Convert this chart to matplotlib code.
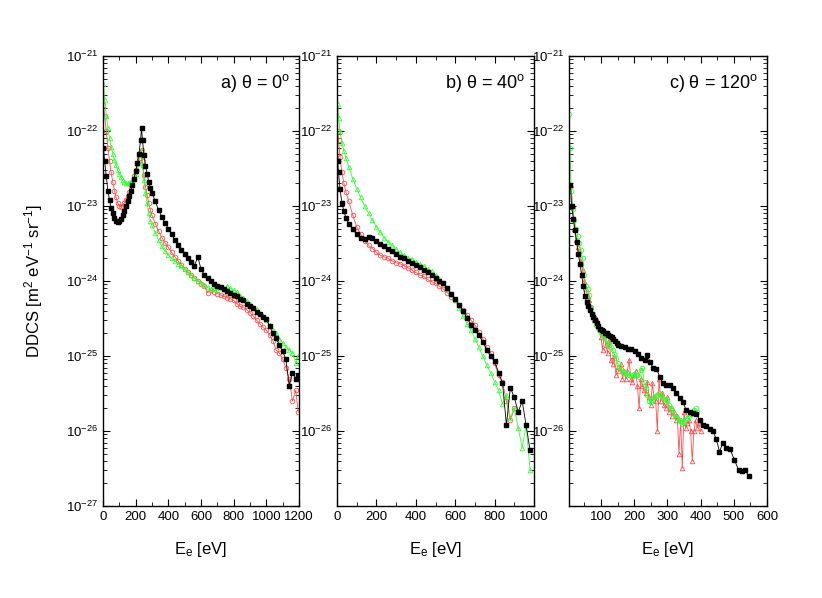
import matplotlib
matplotlib.use("Agg")
import matplotlib.pyplot as plt
from matplotlib.ticker import MultipleLocator, LogLocator, NullFormatter

plt.rcParams['font.family'] = ['Liberation Sans', 'DejaVu Sans']
plt.rcParams['mathtext.fontset'] = 'custom'
plt.rcParams['mathtext.rm'] = 'Liberation Sans'
plt.rcParams['mathtext.it'] = 'Liberation Sans:italic'
plt.rcParams['mathtext.default'] = 'regular'

# ---- panel a) theta = 0 deg
E_a = [3, 10, 20, 30, 40, 50, 60, 70, 80, 90, 100, 110, 120, 130, 140, 150, 160, 170,
       180, 190, 200, 210, 220, 230, 236, 242, 250, 260, 270, 280, 290, 300, 320, 340,
       360, 380, 400, 420, 440, 460, 480, 500, 520, 540, 560, 580, 600, 620, 640, 660,
       680, 700, 720, 740, 760, 780, 800, 820, 840, 860, 880, 900, 920, 940, 960, 980,
       1000, 1020, 1040, 1060, 1080, 1100, 1120, 1140, 1160, 1180, 1195]
black_a = [6.0e-23, 4.0e-23, 2.5e-23, 1.6e-23, 1.2e-23, 9.5e-24, 8.0e-24, 7.0e-24, 6.4e-24,
           6.1e-24, 6.3e-24, 6.8e-24, 7.5e-24, 8.5e-24, 1.0e-23, 1.15e-23, 1.35e-23, 1.6e-23,
           1.9e-23, 2.3e-23, 2.9e-23, 3.7e-23, 5.0e-23, 7.5e-23, 1.1e-22, 7.5e-23, 4.8e-23,
           3.4e-23, 2.7e-23, 2.1e-23, 1.75e-23, 1.5e-23, 1.15e-23, 8.9e-24, 7.2e-24, 5.9e-24,
           5.0e-24, 4.2e-24, 3.5e-24, 3.0e-24, 2.6e-24, 2.3e-24, 2.0e-24, 1.8e-24, 1.6e-24,
           2.1e-24, 1.45e-24, 1.2e-24, 1.08e-24, 1.0e-24, 9.2e-25, 8.5e-25, 8.2e-25, 7.8e-25,
           7.4e-25, 7.0e-25, 6.6e-25, 6.3e-25, 5.8e-25, 5.5e-25, 5.0e-25, 4.7e-25, 4.3e-25,
           3.9e-25, 3.6e-25, 3.3e-25, 3.1e-25, 2.5e-25, 2.0e-25, 1.75e-25, 1.4e-25, 1.15e-25,
           9.0e-26, 4.0e-26, 6.0e-26, 5.0e-26, 5.5e-26]
red_a = [2.2e-22, 1.6e-22, 1.0e-22, 6.0e-23, 4.0e-23, 2.8e-23, 2.1e-23, 1.6e-23, 1.3e-23,
         1.1e-23, 1.0e-23, 9.8e-24, 1.0e-23, 1.1e-23, 1.2e-23, 1.35e-23, 1.55e-23, 1.8e-23,
         2.1e-23, 2.5e-23, 3.0e-23, 3.6e-23, 4.3e-23, 5.2e-23, 5.6e-23, 4.0e-23, 2.6e-23,
         1.8e-23, 1.4e-23, 1.1e-23, 8.8e-24, 7.5e-24, 5.8e-24, 4.6e-24, 3.8e-24, 3.2e-24,
         2.8e-24, 2.4e-24, 2.1e-24, 1.85e-24, 1.65e-24, 1.45e-24, 1.3e-24, 1.2e-24, 1.1e-24,
         1.0e-24, 9.2e-25, 8.5e-25, 7.0e-25, 7.5e-25, 7.2e-25, 6.8e-25, 6.5e-25, 6.3e-25,
         6.0e-25, 5.8e-25, 5.5e-25, 5.0e-25, 4.6e-25, 4.5e-25, 4.1e-25, 3.8e-25, 3.4e-25,
         3.0e-25, 2.7e-25, 2.4e-25, 2.2e-25, 1.9e-25, 1.6e-25, 1.2e-25, 1.1e-25, 9.0e-26,
         7.0e-26, 5.0e-26, 2.5e-26, 3.5e-26, 1.8e-26]
green_a = [4.2e-22, 2.6e-22, 1.6e-22, 1.1e-22, 8.0e-23, 6.2e-23, 5.0e-23, 4.1e-23, 3.5e-23,
           3.0e-23, 2.7e-23, 2.4e-23, 2.2e-23, 2.1e-23, 2.0e-23, 2.0e-23, 2.0e-23, 2.1e-23,
           2.2e-23, 2.4e-23, 2.7e-23, 3.1e-23, 3.8e-23, 4.8e-23, 5.5e-23, 3.5e-23, 2.2e-23,
           1.5e-23, 1.1e-23, 8.0e-24, 6.4e-24, 5.5e-24, 4.4e-24, 3.5e-24, 2.9e-24, 2.5e-24,
           2.2e-24, 2.0e-24, 1.85e-24, 1.7e-24, 1.6e-24, 1.45e-24, 1.3e-24, 1.2e-24, 1.1e-24,
           1.0e-24, 9.4e-25, 8.8e-25, 8.2e-25, 7.8e-25, 8.0e-25, 7.6e-25, 8.3e-25, 7.9e-25,
           8.5e-25, 8.0e-25, 7.6e-25, 7.2e-25, 6.4e-25, 6.0e-25, 5.4e-25, 5.0e-25, 4.5e-25,
           4.2e-25, 3.6e-25, 3.4e-25, 3.0e-25, 2.6e-25, 2.2e-25, 2.0e-25, 1.7e-25, 1.5e-25,
           1.3e-25, 1.2e-25, 1.1e-25, 8.0e-26, 1.0e-25]

# ---- panel b) theta = 40 deg
E_b = [3, 8, 15, 25, 35, 45, 60, 80, 100, 120, 140, 160, 180, 200, 220, 240, 260, 280,
       300, 320, 340, 360, 380, 400, 420, 440, 460, 480, 500, 520, 540, 560, 580, 600,
       620, 640, 660, 680, 700, 720, 740, 760, 780, 800, 820, 840, 860, 880, 900, 920,
       940, 960, 980]
E_b_red = [3, 8, 15, 25, 35, 45, 60, 80, 100, 120, 140, 160, 180, 200, 220, 240, 260, 280,
           300, 320, 340, 360, 380, 400, 420, 440, 460, 480, 500, 520, 540, 560, 580, 600,
           620, 640, 660, 680, 700, 720, 740, 760, 780, 800, 820, 840, 860, 880, 900]
black_b = [4.0e-23, 2.8e-23, 1.7e-23, 1.1e-23, 8.5e-24, 7.0e-24, 5.8e-24, 4.9e-24, 4.2e-24,
           3.7e-24, 3.6e-24, 3.9e-24, 3.7e-24, 3.4e-24, 3.1e-24, 2.9e-24, 2.7e-24, 2.5e-24,
           2.3e-24, 2.1e-24, 2.0e-24, 1.85e-24, 1.75e-24, 1.65e-24, 1.55e-24, 1.4e-24,
           1.3e-24, 1.2e-24, 1.1e-24, 1.0e-24, 9.5e-25, 8.0e-25, 6.8e-25, 5.8e-25, 4.8e-25,
           4.0e-25, 3.2e-25, 2.6e-25, 2.2e-25, 1.9e-25, 1.55e-25, 1.2e-25, 1.0e-25, 8.5e-26,
           6.0e-26, 4.4e-26, 1.2e-26, 3.8e-26, 2.8e-26, 1.8e-26, 2.5e-26, 1.2e-26, 5.5e-27]
red_b = [1.0e-22, 7.5e-23, 4.5e-23, 2.8e-23, 2.0e-23, 1.55e-23, 1.15e-23, 7.5e-24, 5.3e-24,
         4.2e-24, 3.4e-24, 3.0e-24, 2.7e-24, 2.4e-24, 2.2e-24, 2.1e-24, 2.0e-24, 1.85e-24,
         1.75e-24, 1.7e-24, 1.6e-24, 1.5e-24, 1.4e-24, 1.3e-24, 1.2e-24, 1.15e-24, 1.05e-24,
         9.8e-25, 9.3e-25, 8.5e-25, 7.8e-25, 7.0e-25, 6.2e-25, 5.6e-25, 4.8e-25, 4.1e-25,
         3.5e-25, 3.0e-25, 2.6e-25, 2.1e-25, 1.7e-25, 1.3e-25, 1.1e-25, 8.0e-26, 5.5e-26,
         4.5e-26, 2.5e-26, 1.4e-26, 2.0e-26]
green_b = [2.3e-22, 1.5e-22, 1.0e-22, 7.0e-23, 5.4e-23, 4.4e-23, 3.3e-23, 2.3e-23, 1.7e-23,
           1.3e-23, 1.0e-23, 8.0e-24, 6.5e-24, 5.3e-24, 4.5e-24, 3.8e-24, 3.3e-24, 3.0e-24,
           2.7e-24, 2.4e-24, 2.2e-24, 2.05e-24, 1.95e-24, 1.8e-24, 1.7e-24, 1.6e-24, 1.45e-24,
           1.35e-24, 1.2e-24, 1.05e-24, 9.3e-25, 7.8e-25, 6.5e-25, 5.5e-25, 4.3e-25, 3.4e-25,
           2.7e-25, 2.2e-25, 1.7e-25, 1.3e-25, 1.0e-25, 7.5e-26, 6.0e-26, 4.5e-26, 3.5e-26,
           2.3e-26, 3.0e-26, 1.5e-26, 2.0e-26, 1.1e-26, 6.0e-27, 1.2e-26, 3.0e-27]

# ---- panel c) theta = 120 deg
E_c_black = [8, 12, 17, 22, 27, 32, 37, 42, 47, 52, 57, 62, 67, 72, 77, 82, 87, 92, 97, 102,
             107, 112, 117, 122, 127, 132, 137, 142, 147, 152, 162, 172, 182, 192, 202, 212,
             222, 232, 240, 248, 257, 267, 277, 287, 297, 307, 317, 327, 337, 347, 357, 367,
             377, 387, 397, 407, 417, 427, 437, 447, 457, 467, 477, 489, 502, 515, 525, 535,
             545]
black_c = [1.9e-23, 1.0e-23, 6.8e-24, 4.8e-24, 3.3e-24, 2.3e-24, 1.7e-24, 1.2e-24, 8.5e-25,
           6.3e-25, 5.2e-25, 4.6e-25, 4.1e-25, 3.6e-25, 3.3e-25, 3.0e-25, 2.75e-25, 2.5e-25,
           2.3e-25, 2.2e-25, 2.15e-25, 2.05e-25, 2.0e-25, 1.9e-25, 1.85e-25, 1.78e-25, 1.7e-25,
           1.6e-25, 1.5e-25, 1.4e-25, 1.35e-25, 1.3e-25, 1.23e-25, 1.23e-25, 1.15e-25, 1.07e-25,
           9.5e-26, 8.9e-26, 1.02e-25, 8.3e-26, 6.9e-26, 6.8e-26, 5.3e-26, 4.3e-26, 4.1e-26,
           4.1e-26, 3.8e-26, 3.2e-26, 2.75e-26, 2.4e-26, 1.9e-26, 1.8e-26, 1.75e-26, 1.7e-26,
           1.4e-26, 1.2e-26, 1.15e-26, 1.05e-26, 1.0e-26, 7.9e-27, 5.3e-27, 6.9e-27, 5.9e-27,
           5.7e-27, 4.1e-27, 3.0e-27, 2.9e-27, 3.0e-27, 2.5e-27]
E_c_red = [10, 15, 20, 25, 30, 35, 40, 45, 50, 55, 60, 65, 70, 75, 80, 85, 90, 95, 100, 105,
           110, 115, 120, 125, 130, 135, 140, 145, 150, 155, 160, 165, 170, 175, 180, 185,
           190, 195, 200, 205, 210, 215, 220, 225, 230, 235, 240, 245, 250, 255, 260, 265,
           270, 275, 280, 285, 290, 295, 300, 305, 310, 315, 320, 325, 330, 335, 340, 345,
           350, 355, 360, 365, 370, 375, 380, 385, 390, 395, 400]
red_c = [1.9e-23, 1.0e-23, 5.0e-24, 3.5e-24, 2.8e-24, 2.5e-24, 1.8e-24, 1.4e-24, 1.0e-24,
         7.9e-25, 6.3e-25, 5.6e-25, 4.5e-25, 3.5e-25, 3.0e-25, 3.2e-25, 2.5e-25, 2.4e-25,
         1.8e-25, 1.2e-25, 1.9e-25, 1.4e-25, 1.1e-25, 1.6e-25, 8.9e-26, 7.9e-26, 1.0e-25,
         5.6e-26, 7.1e-26, 6.3e-26, 7.9e-26, 5.0e-26, 6.3e-26, 5.0e-26, 6.3e-26, 8.9e-26,
         5.0e-26, 4.5e-26, 5.6e-26, 6.3e-26, 4.0e-26, 2.0e-26, 5.0e-26, 4.0e-26, 3.5e-26,
         3.2e-26, 4.5e-26, 2.8e-26, 2.2e-26, 4.3e-26, 2.8e-26, 2.5e-26, 1.0e-26, 5.0e-26,
         2.5e-26, 3.2e-26, 2.2e-26, 2.0e-26, 2.8e-26, 1.8e-26, 2.0e-26, 1.6e-26, 1.8e-26,
         1.4e-26, 1.6e-26, 5.0e-27, 1.4e-26, 3.2e-27, 1.8e-26, 1.1e-26, 1.26e-26, 1.4e-26,
         1.0e-26, 4.0e-27, 1.0e-26, 1.4e-26, 1.1e-26, 1.26e-26, 1.0e-26]
E_c_green = [4, 7, 11, 15, 20, 25, 30, 35, 40, 45, 50, 55, 60, 65, 70, 75, 80, 85, 90, 95,
             100, 105, 110, 115, 120, 125, 130, 135, 140, 145, 150, 155, 160, 165, 170, 175,
             180, 185, 190, 195, 200, 205, 210, 215, 220, 225, 230, 235, 240, 245, 250, 255,
             260, 265, 270, 275, 280, 285, 290, 295, 300, 305, 310, 315, 320, 325, 330, 335,
             340, 345, 350, 355, 360, 365, 370, 375, 380, 385, 390]
green_c = [1.7e-22, 6.0e-23, 1.6e-23, 9.0e-24, 6.5e-24, 5.0e-24, 4.0e-24, 3.2e-24, 2.6e-24,
           2.0e-24, 1.2e-24, 8.7e-25, 7.9e-25, 6.5e-25, 4.5e-25, 3.6e-25, 3.0e-25, 2.6e-25,
           2.4e-25, 2.2e-25, 2.0e-25, 1.9e-25, 1.8e-25, 1.7e-25, 1.5e-25, 1.4e-25, 1.3e-25,
           1.2e-25, 1.05e-25, 9.5e-26, 8.0e-26, 7.2e-26, 6.8e-26, 6.3e-26, 6.0e-26, 5.8e-26,
           6.0e-26, 5.6e-26, 5.6e-26, 5.3e-26, 5.8e-26, 5.6e-26, 5.6e-26, 5.3e-26, 6.5e-26,
           6.9e-26, 4.5e-26, 3.8e-26, 3.0e-26, 2.5e-26, 2.4e-26, 2.6e-26, 2.8e-26, 2.9e-26,
           3.0e-26, 3.2e-26, 3.0e-26, 2.8e-26, 2.7e-26, 2.6e-26, 2.5e-26, 2.2e-26, 2.0e-26,
           1.9e-26, 1.7e-26, 1.55e-26, 1.5e-26, 1.4e-26, 1.3e-26, 1.25e-26, 1.3e-26, 1.45e-26,
           1.5e-26, 1.6e-26, 1.7e-26, 1.75e-26, 1.9e-26, 2.0e-26, 1.8e-26]

titles = ["a) \u03b8 = 0$^{o}$", "b) \u03b8 = 40$^{o}$", "c) \u03b8 = 120$^{o}$"]
decades = [-21, -22, -23, -24, -25, -26, -27]

RED = '#ff4d4d'
GREEN = '#33ff33'

fig = plt.figure(figsize=(8.22, 5.98), dpi=100)
W, H = 822.0, 598.0
boxes = [(103, 299), (337, 534), (569, 767)]
axes = [fig.add_axes([l / W, (H - 506) / H, (r - l) / W, 450 / H]) for l, r in boxes]

panels = [
    ((E_a, black_a), (E_a, red_a, 'o'), (E_a, green_a, '^')),
    ((E_b, black_b), (E_b_red, red_b, 'o'), (E_b, green_b, '^')),
    ((E_c_black, black_c), (E_c_red, red_c, '^'), (E_c_green, green_c, 'o')),
]

for i, (ax, (blk, red, grn)) in enumerate(zip(axes, panels)):
    ax.plot(blk[0], blk[1], '-', color='black', lw=0.6, marker='s', ms=2.3,
            mec='black', mfc='black', zorder=3)
    ax.plot(red[0], red[1], '-', color=RED, lw=0.6, marker=red[2], ms=3.3,
            mfc='none', mec=RED, mew=0.6, zorder=2)
    ax.plot(grn[0], grn[1], '-', color=GREEN, lw=0.6, marker=grn[2], ms=3.3,
            mfc='none', mec=GREEN, mew=0.6, zorder=2 if i < 2 else 2.5)
    ax.set_yscale('log')
    ax.set_ylim(1e-27, 1e-21)
    ax.yaxis.set_minor_locator(LogLocator(base=10, subs=range(2, 10), numticks=20))
    ax.yaxis.set_minor_formatter(NullFormatter())
    ticks = [10.0 ** d for d in decades]
    labels = ['$10^{%d}$' % d for d in decades]
    if i > 0:
        labels[-1] = ''
    ax.set_yticks(ticks, labels)
    ax.tick_params(which='both', direction='in', top=True, right=True, labelsize=9.5)
    ax.tick_params(which='major', length=5, width=0.8)
    ax.tick_params(which='minor', length=3, width=0.6)
    for s in ax.spines.values():
        s.set_linewidth(1.0)
    ax.set_xlabel('E$_e$ [eV]', fontsize=12, labelpad=12)
    ax.text(0.955, 0.94, titles[i], transform=ax.transAxes, ha='right', va='center',
            fontsize=13)

axes[0].set_xlim(0, 1200)
axes[0].xaxis.set_major_locator(MultipleLocator(200))
axes[0].xaxis.set_minor_locator(MultipleLocator(100))
axes[1].set_xlim(0, 1000)
axes[1].xaxis.set_major_locator(MultipleLocator(200))
axes[1].xaxis.set_minor_locator(MultipleLocator(100))
axes[2].set_xlim(4, 600)
axes[2].xaxis.set_major_locator(MultipleLocator(100))
axes[2].xaxis.set_minor_locator(MultipleLocator(50))

axes[0].set_ylabel('DDCS [m$^{2}$ eV$^{-1}$ sr$^{-1}$]', fontsize=12, labelpad=15)

fig.savefig('out.png', dpi=100)
